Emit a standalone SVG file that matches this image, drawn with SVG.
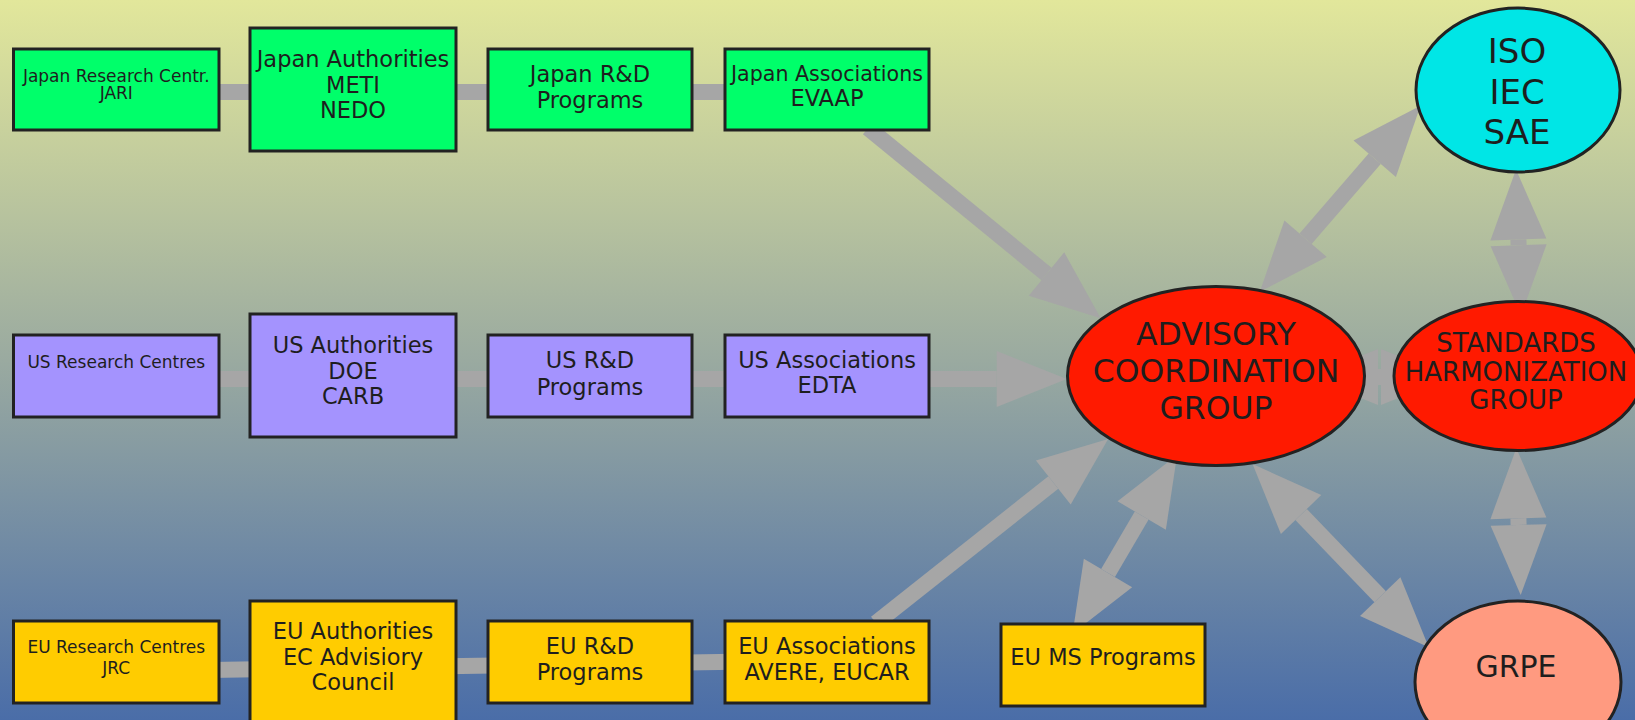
<svg xmlns="http://www.w3.org/2000/svg" width="1635" height="720" viewBox="0 0 1635 720">
<defs>
<linearGradient id="bg" x1="0" y1="0" x2="0" y2="1">
<stop offset="0" stop-color="#e2e79b"/>
<stop offset="0.5" stop-color="#9aaaa0"/>
<stop offset="1" stop-color="#4a6da8"/>
</linearGradient>
<marker id="ah" markerUnits="userSpaceOnUse" markerWidth="70" markerHeight="56" refX="0" refY="28" orient="auto-start-reverse" viewBox="0 0 70 56" overflow="visible">
<path d="M0,0 L70,28 L0,56 z" fill="#a6a6a6"/>
</marker>
</defs>
<style>
.c{stroke:#a6a6a6;stroke-width:16;fill:none;stroke-linecap:butt}
.a{marker-end:url(#ah)}
.d{marker-start:url(#ah);marker-end:url(#ah)}
.n{stroke:#222;stroke-width:3}
.jp{fill:#00ff6a}
.us{fill:#a493fe}
.eu{fill:#ffcc00}
.red{fill:#ff1a00}
.cy{fill:#00e6e6}
.sal{fill:#ff9a80}
text{font-family:"DejaVu Sans",Lato,sans-serif;fill:#1e1e1e;text-anchor:middle}
.s{font-size:17px}
.m{font-size:22.5px}
.mn{font-size:20.6px}
</style>
<rect x="0" y="0" width="1635" height="720" fill="url(#bg)"/>
<g id="connectors">
<line class="c" x1="210" y1="92" x2="735" y2="92"/>
<line class="c a" x1="868" y1="128" x2="1046.5" y2="274"/>
<line class="c a" x1="210" y1="379" x2="996.7" y2="379"/>
<line class="c" x1="210" y1="670" x2="735" y2="661.8"/>
<line class="c a" x1="876" y1="623" x2="1053.3" y2="482.5"/>
<line class="c d" x1="1108" y1="573" x2="1141.7" y2="515.5"/>
<line class="c d" x1="1305.6" y1="238.7" x2="1374.7" y2="158.7"/>
<line class="c d" x1="1301.1" y1="514.5" x2="1380.2" y2="596.7"/>
<line class="c d" x1="1518.4" y1="239.5" x2="1518.6" y2="245.3"/>
<line class="c d" x1="1518.4" y1="518.3" x2="1518.6" y2="525"/>
<line class="c d" x1="1378" y1="377" x2="1381" y2="377"/>
</g>
<g id="jp-research"><rect class="n jp" x="13.5" y="49" width="205.5" height="81"/><text class="s" x="116.3" y="81.7">Japan Research Centr.</text><text class="s" x="116.3" y="99.3">JARI</text></g>
<g id="jp-authorities"><rect class="n jp" x="250" y="28" width="206" height="123"/><text class="m" x="353" y="66.7">Japan Authorities</text><text class="m" x="353" y="93.3">METI</text><text class="m" x="353" y="118">NEDO</text></g>
<g id="jp-rd"><rect class="n jp" x="488" y="49" width="204" height="81"/><text class="m" x="590" y="81.7">Japan R&amp;D</text><text class="m" x="590" y="108">Programs</text></g>
<g id="jp-assoc"><rect class="n jp" x="725" y="49" width="204" height="81"/><text class="mn" x="827" y="80.7">Japan Associations</text><text class="m" x="827" y="106">EVAAP</text></g>
<g id="us-research"><rect class="n us" x="13.5" y="335" width="205.5" height="82"/><text class="s" x="116.3" y="367.7">US Research Centres</text></g>
<g id="us-authorities"><rect class="n us" x="250" y="314" width="206" height="123"/><text class="m" x="353" y="353.3">US Authorities</text><text class="m" x="353" y="379">DOE</text><text class="m" x="353" y="404.3">CARB</text></g>
<g id="us-rd"><rect class="n us" x="488" y="335" width="204" height="82"/><text class="m" x="590" y="368.3">US R&amp;D</text><text class="m" x="590" y="395">Programs</text></g>
<g id="us-assoc"><rect class="n us" x="725" y="335" width="204" height="82"/><text class="m" x="827" y="368.3">US Associations</text><text class="m" x="827" y="393.3">EDTA</text></g>
<g id="eu-research"><rect class="n eu" x="13.5" y="621" width="205.5" height="82"/><text class="s" x="116.3" y="653.3">EU Research Centres</text><text class="s" x="116.3" y="674.3">JRC</text></g>
<g id="eu-authorities"><rect class="n eu" x="250" y="601" width="206" height="135"/><text class="m" x="353" y="639.3">EU Authorities</text><text class="m" x="353" y="665">EC Advisiory</text><text class="m" x="353" y="690">Council</text></g>
<g id="eu-rd"><rect class="n eu" x="488" y="621" width="204" height="82"/><text class="m" x="590" y="654">EU R&amp;D</text><text class="m" x="590" y="680">Programs</text></g>
<g id="eu-assoc"><rect class="n eu" x="725" y="621" width="204" height="82"/><text class="m" x="827" y="654">EU Associations</text><text class="m" x="827" y="680">AVERE, EUCAR</text></g>
<g id="eu-ms"><rect class="n eu" x="1001" y="624" width="204" height="82"/><text class="m" x="1103" y="665">EU MS Programs</text></g>
<g id="iso"><ellipse class="n cy" cx="1518" cy="90" rx="102" ry="82"/><text x="1517" y="63.3" font-size="34">ISO</text><text x="1517" y="104" font-size="34">IEC</text><text x="1517" y="144" font-size="34">SAE</text></g>
<g id="advisory"><ellipse class="n red" cx="1216" cy="376" rx="148.5" ry="89.5"/><text x="1216" y="345" font-size="31.5">ADVISORY</text><text x="1216" y="381.7" font-size="31.5">COORDINATION</text><text x="1216" y="419.3" font-size="31.5">GROUP</text></g>
<g id="standards"><ellipse class="n red" cx="1518" cy="376" rx="124" ry="74.5"/><text x="1516" y="351.7" font-size="26">STANDARDS</text><text x="1516" y="380.7" font-size="26">HARMONIZATION</text><text x="1516" y="409.3" font-size="26">GROUP</text></g>
<g id="grpe"><ellipse class="n sal" cx="1518" cy="682" rx="103" ry="81"/><text x="1516" y="677.3" font-size="30">GRPE</text></g>
</svg>
